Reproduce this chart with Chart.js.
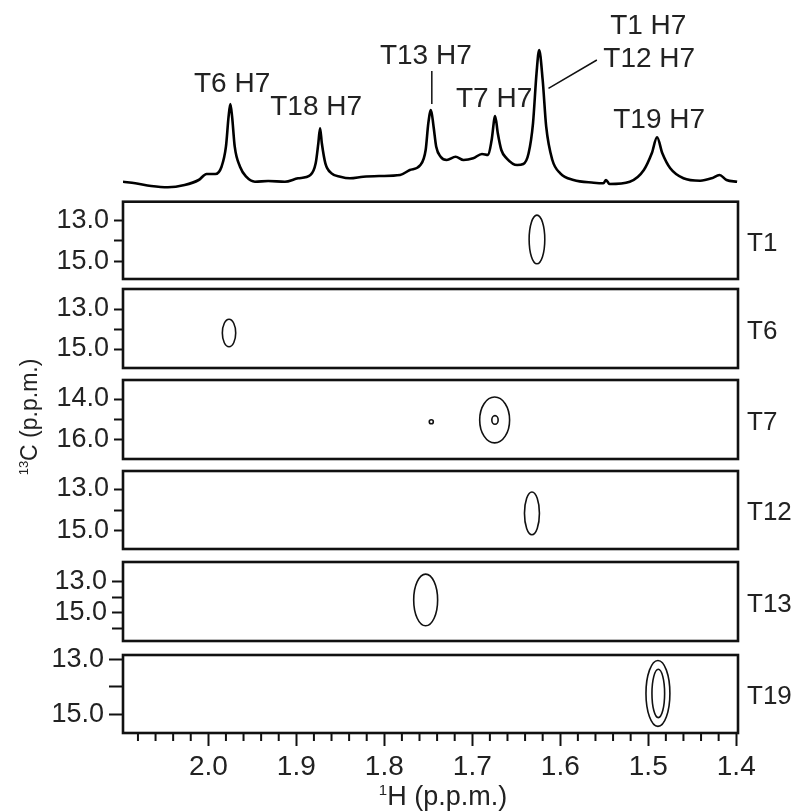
<!DOCTYPE html>
<html>
<head>
<meta charset="utf-8">
<script src="https://cdn.jsdelivr.net/npm/chart.js@4.4.1/dist/chart.umd.min.js"></script>
<style>
  body { margin: 0; background: #fff; }
  #wrap { position: relative; width: 799px; height: 812px; }
  #wrap canvas { position: absolute; left: 0; top: 0; }
</style>
</head>
<body>
<div id="wrap"></div>
<script>
// 1H axis (ppm), reversed
const xMin = 1.398
const xMax = 2.097
const xMajor = [2.0, 1.9, 1.8, 1.7, 1.6, 1.5, 1.4]
const xMinor = [2.08, 2.06, 2.04, 2.02, 1.98, 1.96, 1.94, 1.92, 1.88, 1.86, 1.84, 1.82,
  1.78, 1.76, 1.74, 1.72, 1.68, 1.66, 1.64, 1.62, 1.58, 1.56, 1.54, 1.52, 1.48, 1.46, 1.44, 1.42]

// 1D spectrum trace
const specPpm = [2.097, 2.083, 2.065, 2.046, 2.027, 2.011, 2.002, 1.992, 1.985, 1.980, 1.977, 1.975, 1.973,
  1.970, 1.964, 1.957, 1.947, 1.932, 1.913, 1.898, 1.884, 1.878, 1.875, 1.873, 1.871, 1.867, 1.860, 1.850,
  1.839, 1.824, 1.805, 1.782, 1.771, 1.759, 1.753, 1.750, 1.747, 1.744, 1.741, 1.736, 1.729, 1.719, 1.710,
  1.699, 1.689, 1.682, 1.678, 1.674, 1.671, 1.667, 1.661, 1.649, 1.642, 1.636, 1.631, 1.627, 1.624, 1.620,
  1.616, 1.609, 1.600, 1.585, 1.562, 1.551, 1.548, 1.544, 1.521, 1.505, 1.496, 1.490, 1.484, 1.475, 1.460,
  1.441, 1.428, 1.419, 1.411, 1.399]
const specInt = [8.3, 6.7, 4, 2.7, 5, 10, 16, 16, 23.3, 43.3, 73.3, 86, 73.3,
  43.3, 23.3, 13.3, 8.3, 9, 8.3, 11.7, 15, 26.7, 46.7, 61.7, 46.7, 26.7, 16.7, 13.3,
  11.7, 13.3, 14, 15, 20, 25, 40, 66.7, 80, 63.3, 43.3, 33.3, 30, 33.3, 30,
  31.7, 36, 35, 50, 74, 56.7, 40, 31.7, 25, 26, 36.7, 66.7, 116.7, 140, 110,
  63.3, 30, 16.7, 10, 7.3, 6.7, 10, 6, 8.3, 20, 36.7, 52.7, 36.7, 21.7, 11.7,
  9.3, 11.7, 15, 10, 8.3]

// peak labels on the spectrum (ppm, height)
const peakLabels = ['T6 H7', 'T18 H7', 'T13 H7', 'T7 H7', 'T1 H7', 'T12 H7', 'T19 H7']
const peakLabelPpm = [1.973, 1.8775, 1.7528, 1.6752, 1.500, 1.4989, 1.4876]
const peakLabelInt = [106, 83, 134, 90.5, 163.3, 130.7, 70]

// 2D strips
const stripNames = ['T1', 'T6', 'T7', 'T12', 'T13', 'T19']
const stripMin = [12.07, 12.0, 13.07, 12.14, 11.71, 12.85]
const stripMax = [15.88, 15.95, 16.93, 15.86, 16.81, 15.69]
const stripLabeled = [[13, 15], [13, 15], [14, 16], [13, 15], [13, 15], [13, 15]]
const stripMinor = [[14], [14], [15], [14], [14, 16], [14]]

// contours: strip index, 1H centre, 13C centre, half widths
const contourStrip = [0, 1, 2, 2, 2, 3, 4, 5, 5]
const contourH = [1.6265, 1.9765, 1.6746, 1.6742, 1.7466, 1.6322, 1.753, 1.489, 1.4886]
const contourC = [13.93, 14.2, 15.02, 15.02, 15.11, 14.16, 14.16, 14.25, 14.25]
const contourDH = [0.0089, 0.0076, 0.017, 0.0036, 0.0023, 0.0085, 0.0136, 0.0136, 0.0072]
const contourDC = [1.2, 0.69, 1.12, 0.21, 0.1, 1.02, 1.67, 1.2, 0.88]

// layout
const W = 799, H = 812
const areaLeft = 123, areaRight = 738
const stripTop = [201.7, 289, 380, 471, 562, 655]
const stripBottom = [279, 368, 459, 549, 641, 733]
const stripTickLen = [9, 9, 9, 9, 11, 14]
const xAxisH = 60
const FONT = '"Liberation Sans", Arial, sans-serif'
const TXT = '#222'

const wrap = document.getElementById('wrap')
function newCanvas() {
  const c = document.createElement('canvas')
  c.width = W; c.height = H
  c.style.width = W + 'px'; c.style.height = H + 'px'
  wrap.appendChild(c)
  return c.getContext('2d')
}

// spectrum
const specPlugin = {
  id: 'specLabels',
  afterDraw(chart) {
    const ctx = chart.ctx, x = chart.scales.x, y = chart.scales.y
    ctx.save()
    ctx.fillStyle = TXT
    ctx.font = '28px ' + FONT
    ctx.textAlign = 'center'
    ctx.textBaseline = 'middle'
    peakLabels.forEach((t, i) => {
      ctx.fillText(t, x.getPixelForValue(peakLabelPpm[i]), y.getPixelForValue(peakLabelInt[i]))
    })
    ctx.strokeStyle = '#111'
    ctx.lineWidth = 1.5
    ctx.beginPath()
    ctx.moveTo(x.getPixelForValue(1.746), y.getPixelForValue(119))
    ctx.lineTo(x.getPixelForValue(1.746), y.getPixelForValue(86))
    ctx.moveTo(x.getPixelForValue(1.6134), y.getPixelForValue(101.7))
    ctx.lineTo(x.getPixelForValue(1.5584), y.getPixelForValue(130))
    ctx.stroke()

    // 13C axis title
    ctx.translate(29, 417)
    ctx.rotate(-Math.PI / 2)
    ctx.textAlign = 'left'
    ctx.textBaseline = 'alphabetic'
    ctx.font = '13px ' + FONT
    const w1 = ctx.measureText('13').width
    ctx.font = '23px ' + FONT
    const w2 = ctx.measureText('C (p.p.m.)').width
    const x0 = -(w1 + w2) / 2
    ctx.font = '13px ' + FONT
    ctx.fillText('13', x0, -1)
    ctx.font = '23px ' + FONT
    ctx.fillText('C (p.p.m.)', x0 + w1, 8)
    ctx.restore()
  }
}

new Chart(newCanvas(), {
  type: 'line',
  data: {
    datasets: [{
      data: specPpm.map((p, i) => ({ x: p, y: specInt[i] })),
      borderColor: '#000',
      borderWidth: 2.6,
      pointRadius: 0,
      cubicInterpolationMode: 'monotone',
      fill: false
    }]
  },
  options: {
    responsive: false,
    animation: false,
    events: [],
    layout: { padding: { left: areaLeft, right: W - areaRight, top: 10, bottom: H - 190 } },
    plugins: { legend: { display: false }, tooltip: { enabled: false } },
    scales: {
      x: { type: 'linear', reverse: true, min: xMin, max: xMax, display: false },
      y: { type: 'linear', min: 0, max: 180, display: false }
    }
  },
  plugins: [specPlugin]
})

// strips
const stripPlugin = {
  id: 'strip',
  afterDraw(chart) {
    const i = chart.options.plugins.strip.index
    const ctx = chart.ctx, a = chart.chartArea, x = chart.scales.x, y = chart.scales.y
    ctx.save()
    ctx.beginPath()
    ctx.rect(a.left, a.top, a.right - a.left, a.bottom - a.top)
    ctx.clip()
    ctx.strokeStyle = '#111'
    ctx.lineWidth = 1.6
    contourStrip.forEach((s, k) => {
      if (s !== i) return
      const cx = x.getPixelForValue(contourH[k])
      const cy = y.getPixelForValue(contourC[k])
      const rx = Math.abs(x.getPixelForValue(contourH[k] + contourDH[k]) - cx)
      const ry = Math.abs(y.getPixelForValue(contourC[k] + contourDC[k]) - cy)
      ctx.beginPath()
      ctx.ellipse(cx, cy, rx, ry, 0, 0, Math.PI * 2)
      ctx.stroke()
    })
    ctx.restore()

    ctx.save()
    ctx.strokeStyle = '#111'
    ctx.lineWidth = 2.6
    ctx.strokeRect(a.left, a.top, a.right - a.left, a.bottom - a.top)
    ctx.fillStyle = TXT
    ctx.font = '26px ' + FONT
    ctx.textAlign = 'left'
    ctx.textBaseline = 'middle'
    ctx.fillText(stripNames[i], a.right + 9, (a.top + a.bottom) / 2 + 3)

    if (i === stripNames.length - 1) {
      // minor 1H ticks
      ctx.lineWidth = 2
      ctx.beginPath()
      xMinor.forEach(v => {
        const px = x.getPixelForValue(v)
        ctx.moveTo(px, a.bottom)
        ctx.lineTo(px, a.bottom + 8)
      })
      ctx.stroke()
      // 1H axis title
      ctx.textBaseline = 'alphabetic'
      ctx.font = '15px ' + FONT
      const w1 = ctx.measureText('1').width
      ctx.font = '27px ' + FONT
      const w2 = ctx.measureText('H (p.p.m.)').width
      const x0 = 443 - (w1 + w2) / 2
      ctx.font = '15px ' + FONT
      ctx.fillText('1', x0, 795)
      ctx.font = '27px ' + FONT
      ctx.fillText('H (p.p.m.)', x0 + w1, 805)
    }
    ctx.restore()
  }
}

stripNames.forEach((name, i) => {
  const last = i === stripNames.length - 1
  const yTicks = stripLabeled[i].concat(stripMinor[i])
  new Chart(newCanvas(), {
    type: 'scatter',
    data: { datasets: [{ data: [], pointRadius: 0 }] },
    options: {
      responsive: false,
      animation: false,
      events: [],
      layout: {
        padding: {
          left: 0,
          right: W - areaRight,
          top: stripTop[i],
          bottom: last ? H - stripBottom[i] - xAxisH : H - stripBottom[i]
        }
      },
      plugins: { legend: { display: false }, tooltip: { enabled: false }, strip: { index: i } },
      scales: {
        x: {
          type: 'linear', reverse: true, min: xMin, max: xMax,
          display: last,
          afterFit: s => { s.height = last ? xAxisH : 0 },
          afterBuildTicks: s => { s.ticks = xMajor.map(v => ({ value: v })) },
          border: { display: false },
          grid: { drawOnChartArea: false, tickLength: 13, tickWidth: 2, tickColor: '#111' },
          ticks: {
            autoSkip: false, maxRotation: 0, padding: 4,
            color: TXT, font: { size: 28, family: FONT },
            callback: v => Number(v).toFixed(1)
          }
        },
        y: {
          type: 'linear', reverse: true, min: stripMin[i], max: stripMax[i],
          afterFit: s => { s.width = areaLeft },
          afterBuildTicks: s => { s.ticks = yTicks.map(v => ({ value: v })) },
          border: { display: false },
          grid: { drawOnChartArea: false, tickLength: stripTickLen[i], tickWidth: 2, tickColor: '#111' },
          ticks: {
            autoSkip: false, padding: 5,
            color: TXT, font: { size: 27, family: FONT },
            callback: v => stripLabeled[i].includes(v) ? Number(v).toFixed(1) : ''
          }
        }
      }
    },
    plugins: [stripPlugin]
  })
})
</script>
</body>
</html>
